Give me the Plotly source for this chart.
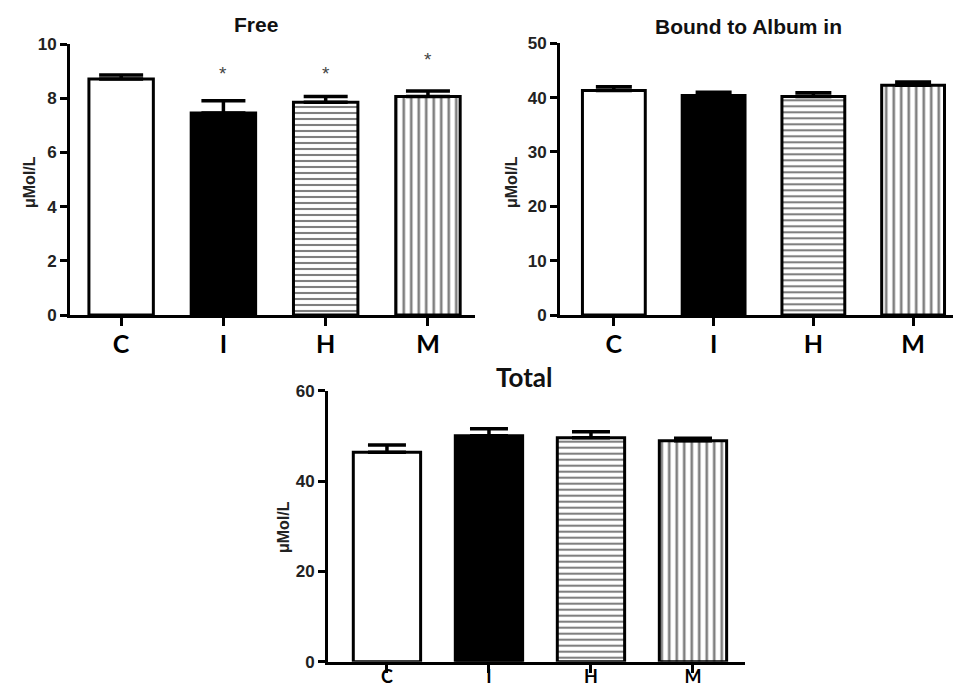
import plotly.graph_objects as go

# The page body has an 8px margin, so the figure is drawn 8px smaller on each side
# and reference pixel positions are shifted by OFF.
OFF = 8
W, H = 961 - 2 * OFF, 692 - 2 * OFF

categories = ["C", "I", "H", "M"]

free_mean = [8.71, 7.45, 7.85, 8.06]
free_err = [0.15, 0.46, 0.21, 0.21]
free_sig = [None, 8.93, 8.93, 9.41]   # asterisk heights

bound_mean = [41.3, 40.4, 40.2, 42.3]
bound_err = [0.7, 0.6, 0.7, 0.6]

total_mean = [46.4, 50.0, 49.6, 48.9]
total_err = [1.6, 1.6, 1.3, 0.6]

titles = ["Free", "Bound to Album in", "Total"]
ytitle = "\u03bcMol/L"

# bar styling per category: (fill colour, pattern shape, pattern size)
styles = [("white", "", 6), ("black", "", 6), ("white", "-", 6), ("white", "|", 7.5)]


def px_x(x):
    return (x - OFF) / W


def px_y(y):
    return (H - (y - OFF)) / H


fig = go.Figure()

panels = [
    dict(mean=free_mean, err=free_err, ax="", xdom=(70, 475), ydom=(315, 44),
         xr=[-0.5, 3.46], yr=[0, 10], dtick=2, bw=0.63, cap=22, lsize=25, lso=-3),
    dict(mean=bound_mean, err=bound_err, ax="2", xdom=(560, 961), ydom=(315, 43.3),
         xr=[-0.54, 3.40], yr=[0, 50], dtick=10, bw=0.63, cap=18, lsize=25, lso=-3),
    dict(mean=total_mean, err=total_err, ax="3", xdom=(328, 745), ydom=(661.7, 390.7),
         xr=[-0.578, 3.51], yr=[0, 60], dtick=20, bw=0.66, cap=19, lsize=18, lso=-11),
]

for p in panels:
    for i, cat in enumerate(categories):
        col, shape, size = styles[i]
        fig.add_trace(go.Bar(
            x=[cat], y=[p["mean"][i]],
            width=p["bw"],
            marker=dict(color=col, line=dict(color="black", width=3),
                        pattern=dict(shape=shape, fgcolor="black", bgcolor="white",
                                     size=size, solidity=0.35) if shape else None),
            error_y=dict(type="data", symmetric=False, array=[p["err"][i]],
                         arrayminus=[0], color="black", thickness=3.5, width=p["cap"]),
            xaxis="x" + p["ax"], yaxis="y" + p["ax"],
            showlegend=False,
        ))

layout = dict(
    width=W, height=H,
    margin=dict(l=0, r=0, t=0, b=0, autoexpand=False),
    paper_bgcolor="white", plot_bgcolor="white",
)

for p in panels:
    ax = p["ax"]
    layout["xaxis" + ax] = dict(
        domain=[px_x(p["xdom"][0]), min(1.0, px_x(p["xdom"][1]))],
        anchor="y" + ax, range=p["xr"], type="category",
        categoryorder="array", categoryarray=categories,
        showline=True, linecolor="black", linewidth=3,
        ticks="outside", ticklen=8, tickwidth=3, tickcolor="black",
        showgrid=False, zeroline=False, automargin=False,
        ticklabelstandoff=p["lso"],
        tickfont=dict(family="Lato", size=p["lsize"], color="black", weight="bold"),
    )
    layout["yaxis" + ax] = dict(
        domain=[px_y(p["ydom"][0]), px_y(p["ydom"][1])],
        anchor="x" + ax, range=p["yr"], dtick=p["dtick"],
        showline=True, linecolor="black", linewidth=3,
        ticks="outside", ticklen=7, tickwidth=3, tickcolor="black",
        showgrid=False, zeroline=False, automargin=False,
        tickfont=dict(family="Liberation Sans", size=17, color="#222", weight="bold"),
    )

annotations = []
title_pos = [(256, 25, 21, "Liberation Sans"), (748, 27, 21, "Liberation Sans"),
             (524, 377, 26, "Lato")]
for t, (x, y, s, fam) in zip(titles, title_pos):
    annotations.append(dict(text=t, x=px_x(x), y=px_y(y), xref="paper", yref="paper",
                            showarrow=False, xanchor="center", yanchor="middle",
                            font=dict(family=fam, size=s, color="#111", weight="bold")))
for (x, y) in [(29, 182), (511, 182), (283, 527)]:
    annotations.append(dict(text=ytitle, x=px_x(x), y=px_y(y), xref="paper", yref="paper",
                            showarrow=False, textangle=-90, xanchor="center", yanchor="middle",
                            font=dict(family="Liberation Sans", size=16, color="#222",
                                      weight="bold")))
for cat, s in zip(categories, free_sig):
    if s is not None:
        annotations.append(dict(text="*", x=cat, y=s, xref="x", yref="y",
                                showarrow=False, xanchor="center", yanchor="middle",
                                font=dict(family="Liberation Sans", size=19, color="#444")))
layout["annotations"] = annotations

fig.update_layout(**layout)
fig.write_html("out.html")
